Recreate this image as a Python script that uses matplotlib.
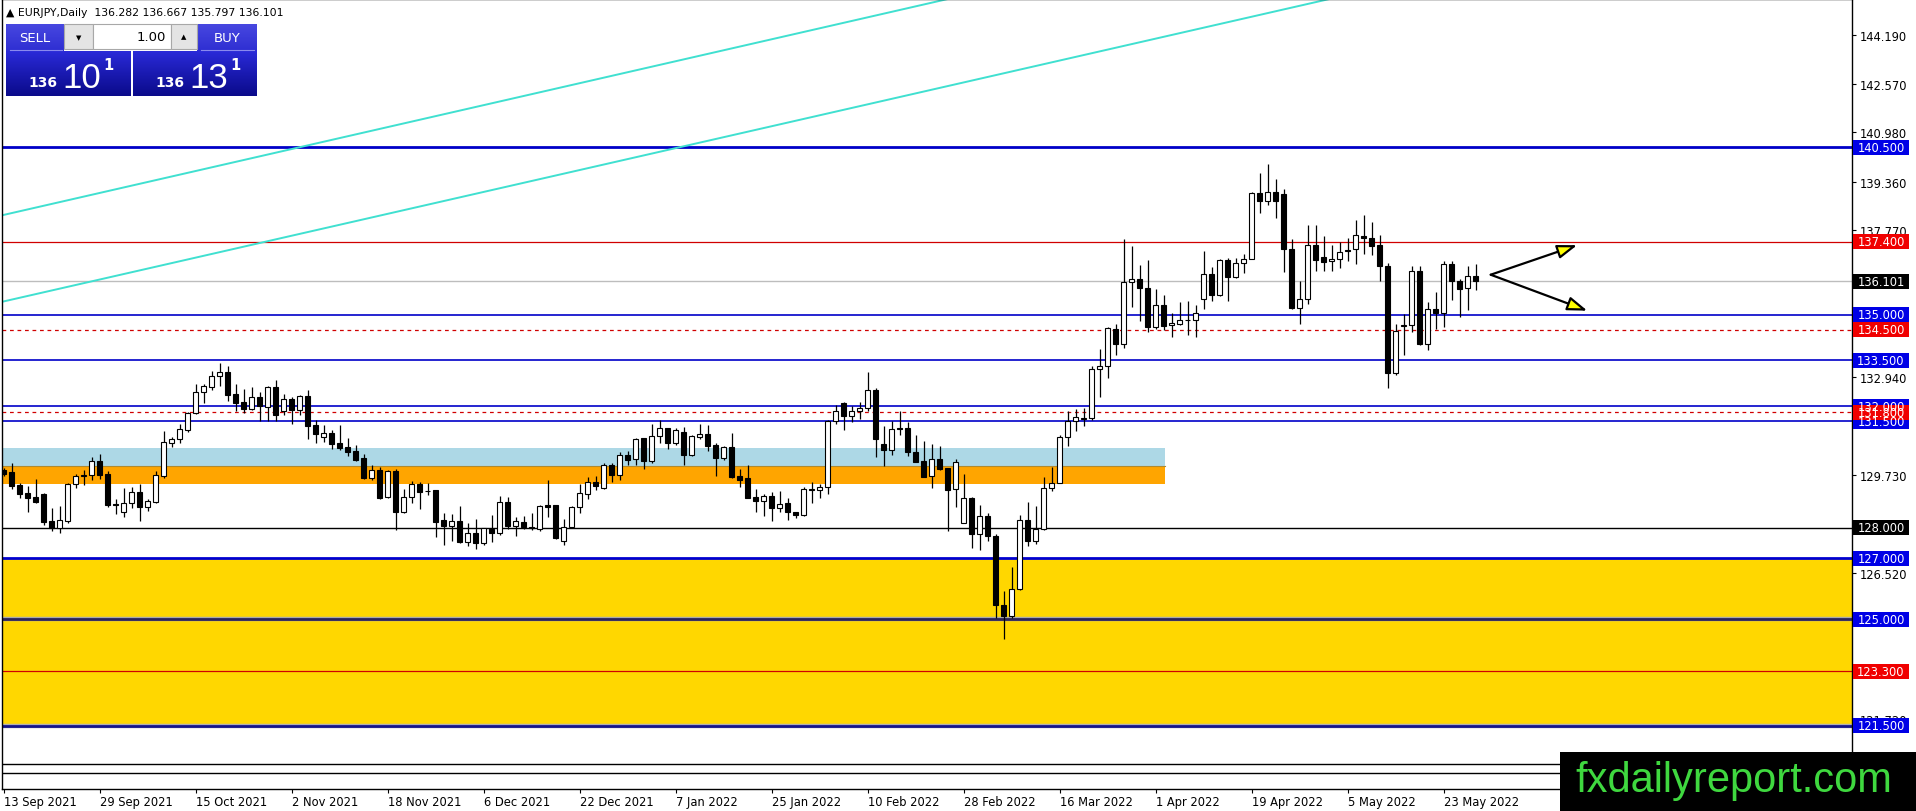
import matplotlib
matplotlib.use("Agg")
import matplotlib.pyplot as plt
import matplotlib.transforms as mtransforms
from matplotlib.patches import Rectangle
from matplotlib.colors import LinearSegmentedColormap
import numpy as np

# ---- daily EURJPY candles, 13 Sep 2021 .. 27 May 2022 ----
opens = [129.90, 129.84, 129.42, 129.15, 129.03, 129.11, 128.22, 127.99, 128.23, 129.43,
         129.71, 129.73, 130.18, 129.76, 128.78, 128.53, 128.81, 129.17, 128.68, 128.86,
         129.69, 130.80, 130.91, 131.22, 131.76, 132.45, 132.64, 132.97, 133.11, 132.38,
         132.12, 131.91, 132.29, 131.98, 132.61, 131.85, 132.22, 131.88, 132.32, 131.37,
         130.99, 131.10, 130.78, 130.66, 130.52, 130.29, 129.65, 129.90, 129.00, 129.87,
         128.53, 129.00, 129.43, 129.22, 129.24, 128.25, 128.07, 128.22, 127.55, 127.83,
         127.49, 127.96, 127.84, 128.84, 128.07, 128.20, 128.04, 127.96, 128.74, 128.74,
         127.58, 128.04, 128.68, 129.12, 129.50, 129.32, 130.05, 129.75, 130.38, 130.25,
         130.94, 130.21, 131.01, 131.27, 130.80, 131.14, 130.40, 130.99, 131.07, 130.72,
         130.28, 130.64, 129.69, 129.65, 129.02, 128.87, 129.04, 128.64, 128.81, 128.51,
         128.41, 129.24, 129.23, 129.33, 131.50, 132.09, 131.66, 131.85, 131.95, 132.53,
         130.74, 130.57, 131.27, 131.27, 130.50, 130.20, 129.71, 130.26, 129.95, 129.27,
         128.15, 128.97, 127.79, 128.39, 127.72, 125.48, 125.10, 126.00, 128.25, 127.56,
         127.95, 129.30, 129.49, 130.97, 131.50, 131.58, 131.60, 133.20, 133.30, 134.53,
         134.02, 136.06, 136.16, 135.87, 134.61, 135.30, 134.65, 134.70, 134.81, 134.81,
         135.50, 136.35, 135.65, 136.79, 136.22, 136.68, 136.83, 138.98, 138.74, 139.01,
         138.96, 137.17, 135.23, 135.52, 137.30, 136.90, 136.75, 136.83, 137.11, 137.14,
         137.57, 137.53, 137.27, 136.61, 133.10, 134.62, 134.65, 136.42, 134.05, 135.20,
         135.06, 136.66, 136.09, 135.86, 136.282]
highs = [129.98, 130.12, 129.48, 129.39, 129.62, 129.16, 128.64, 128.72, 129.46, 129.77,
         129.90, 130.32, 130.43, 129.87, 128.96, 129.30, 129.35, 129.43, 128.96, 129.87,
         131.18, 131.00, 131.40, 131.80, 132.73, 132.73, 133.14, 133.40, 133.32, 132.73,
         132.55, 132.61, 132.47, 132.66, 132.84, 132.40, 132.31, 132.35, 132.53, 131.54,
         131.37, 131.21, 131.37, 130.94, 130.71, 130.43, 130.05, 129.99, 129.90, 129.92,
         129.27, 129.53, 129.50, 129.46, 129.25, 128.49, 128.46, 128.72, 128.15, 128.28,
         128.01, 128.41, 129.04, 129.03, 128.35, 128.39, 128.48, 128.75, 129.57, 128.76,
         128.28, 128.71, 129.44, 129.68, 129.70, 130.14, 130.12, 130.50, 130.52, 130.95,
         130.95, 131.40, 131.54, 131.29, 131.28, 131.30, 131.05, 131.40, 131.37, 130.78,
         130.69, 131.10, 129.92, 130.06, 129.28, 129.11, 129.17, 129.21, 128.97, 128.53,
         129.33, 129.50, 129.44, 131.54, 132.04, 132.14, 132.01, 132.12, 133.11, 132.58,
         131.33, 131.51, 131.85, 131.46, 131.06, 130.85, 130.75, 130.69, 129.98, 130.26,
         129.77, 129.00, 128.75, 128.48, 127.79, 125.94, 126.73, 128.42, 128.84, 128.71,
         129.66, 130.01, 131.06, 131.85, 131.90, 131.93, 133.32, 133.87, 134.59, 134.70,
         137.48, 137.25, 136.63, 136.79, 135.83, 135.64, 135.07, 135.40, 135.44, 135.30,
         137.09, 136.55, 136.83, 136.87, 136.87, 136.98, 139.03, 139.65, 139.96, 139.44,
         139.11, 137.47, 136.09, 137.93, 137.93, 137.57, 137.30, 137.39, 137.51, 138.10,
         138.27, 138.04, 137.63, 136.68, 134.69, 135.01, 136.61, 136.61, 135.40, 135.73,
         136.76, 136.76, 136.16, 136.60, 136.667]
lows = [129.70, 129.28, 128.99, 128.53, 128.81, 128.08, 127.90, 127.84, 128.17, 129.32,
        129.41, 129.57, 129.59, 128.70, 128.47, 128.36, 128.66, 128.24, 128.57, 128.81,
        129.65, 130.67, 130.80, 131.15, 131.73, 132.09, 132.54, 132.67, 132.17, 131.85,
        131.78, 131.87, 131.51, 131.51, 131.51, 131.72, 131.40, 131.71, 130.93, 130.78,
        130.83, 130.59, 130.56, 130.36, 130.20, 129.62, 129.56, 128.94, 128.98, 127.93,
        128.48, 128.83, 128.63, 129.08, 127.71, 127.43, 127.56, 127.52, 127.41, 127.32,
        127.43, 127.53, 127.76, 127.97, 127.75, 127.95, 127.93, 127.91, 128.37, 127.65,
        127.45, 127.99, 128.50, 128.96, 129.25, 129.29, 129.52, 129.58, 130.05, 130.06,
        129.94, 130.14, 130.78, 130.58, 130.73, 130.08, 130.36, 130.92, 130.54, 129.71,
        130.23, 129.64, 129.33, 128.97, 128.51, 128.38, 128.22, 128.53, 128.27, 128.34,
        128.40, 128.82, 128.99, 129.12, 131.40, 131.22, 131.46, 131.57, 131.84, 130.34,
        130.02, 130.40, 131.06, 130.37, 130.15, 129.66, 129.32, 129.91, 127.89, 128.67,
        128.15, 127.33, 127.27, 127.56, 125.04, 124.35, 125.04, 125.97, 127.42, 127.48,
        127.93, 129.22, 129.47, 130.68, 131.18, 131.33, 131.55, 132.29, 132.91, 133.66,
        133.91, 135.26, 134.80, 134.44, 134.53, 134.49, 134.25, 134.65, 134.34, 134.27,
        135.19, 135.46, 135.62, 135.46, 136.19, 136.37, 136.81, 138.35, 138.61, 138.18,
        136.41, 135.20, 134.70, 135.35, 136.44, 136.44, 136.44, 136.54, 136.76, 136.67,
        137.00, 136.97, 136.11, 132.60, 133.03, 133.68, 134.43, 134.01, 133.85, 134.53,
        134.60, 135.49, 134.93, 135.16, 135.797]
closes = [129.78, 129.39, 129.11, 128.99, 128.86, 128.19, 127.99, 128.25, 129.44, 129.69,
          129.73, 130.18, 129.75, 128.76, 128.74, 128.81, 129.17, 128.68, 128.87, 129.73,
          130.81, 130.91, 131.24, 131.77, 132.45, 132.65, 132.97, 133.11, 132.37, 132.09,
          131.91, 132.29, 132.01, 132.61, 131.72, 132.22, 131.88, 132.32, 131.36, 131.09,
          131.10, 130.76, 130.62, 130.50, 130.23, 129.64, 129.89, 128.97, 129.86, 128.53,
          129.00, 129.43, 129.19, 129.20, 128.20, 128.07, 128.22, 127.54, 127.83, 127.49,
          127.99, 127.84, 128.84, 128.07, 128.22, 128.04, 127.99, 128.72, 128.70, 127.68,
          128.04, 128.69, 129.13, 129.50, 129.39, 130.05, 129.75, 130.38, 130.23, 130.93,
          130.21, 131.01, 131.27, 130.80, 131.20, 130.40, 131.01, 131.07, 130.70, 130.28,
          130.64, 129.68, 129.57, 128.99, 128.88, 129.04, 128.64, 128.79, 128.51, 128.41,
          129.27, 129.27, 129.33, 131.51, 131.85, 131.66, 131.85, 131.95, 132.51, 130.92,
          130.57, 131.23, 131.23, 130.50, 130.17, 129.68, 130.26, 129.92, 129.25, 130.15,
          128.97, 127.79, 128.38, 127.72, 125.48, 125.10, 126.00, 128.25, 127.56, 127.95,
          129.30, 129.49, 130.97, 131.51, 131.63, 131.61, 133.20, 133.30, 134.55, 134.03,
          136.06, 136.16, 135.86, 134.60, 135.30, 134.63, 134.72, 134.81, 134.82, 135.07,
          136.35, 135.65, 136.79, 136.22, 136.68, 136.84, 138.98, 138.74, 139.01, 138.74,
          137.16, 135.23, 135.52, 137.30, 136.80, 136.72, 136.83, 137.07, 137.08, 137.60,
          137.53, 137.26, 136.60, 133.10, 134.46, 134.66, 136.42, 134.05, 135.20, 135.04,
          136.65, 136.09, 135.83, 136.28, 136.101]

date_bars = [0, 12, 24, 36, 48, 60, 72, 84, 96, 108, 120, 132, 144, 156, 168, 180]
date_labels = ["13 Sep 2021", "29 Sep 2021", "15 Oct 2021", "2 Nov 2021", "18 Nov 2021",
               "6 Dec 2021", "22 Dec 2021", "7 Jan 2022", "25 Jan 2022", "10 Feb 2022",
               "28 Feb 2022", "16 Mar 2022", "1 Apr 2022", "19 Apr 2022", "5 May 2022",
               "23 May 2022"]
price_ticks = [144.19, 142.57, 140.98, 139.36, 137.77, 132.94, 129.73, 128.11, 126.52, 121.72]

# drawn levels
blue_levels = [140.5, 135.0, 133.5, 132.0, 131.5]
red_levels = [137.4, 123.3]
red_dash_levels = [134.5, 131.8]
black_levels = [128.0]
bid_price = 136.101
demand_zone = (121.5, 127.0)
blue_zone = (130.03, 130.62)
orange_zone = (129.45, 130.03)
zone_end_bar = 145.2
bottom_lines = [120.25, 119.95]

# price tags on the right scale (drawn in this order)
tag_prices = [140.5, 137.4, 135.0, 134.5, 133.5, 132.0, 131.5, 131.8,
              128.0, 127.0, 125.0, 123.3, 121.5, 136.101]
tag_colors = ["#0000e6", "#f00000", "#0000e6", "#f00000", "#0000e6", "#0000e6", "#0000e6", "#f00000",
              "#000000", "#0000e6", "#0000e6", "#f00000", "#0000e6", "#000000"]

# trend channel (two points each) and the two scenario arrows
trend_pts = [((37.1, 140.5), (116.7, 145.28)), ((84.6, 140.5), (164.4, 145.28))]
arrow_start = (185.9, 136.31)
arrow_ends = [(196.7, 137.28), (197.97, 135.13)]

W, H = 1916, 812
fig = plt.figure(figsize=(W / 100, H / 100), dpi=100)
fig.patch.set_facecolor("white")
ax = fig.add_axes([2 / W, 22 / H, 1850 / W, 790 / H])
ax.set_xlim(-0.19, 231.06)
ax.set_ylim(119.43, 145.36)

# zones
ax.axhspan(demand_zone[0], demand_zone[1], color="#ffd700", lw=0, zorder=0.5)
ax.fill_between([-1, zone_end_bar], blue_zone[0], blue_zone[1], color="#add8e6", lw=0, zorder=0.5)
ax.fill_between([-1, zone_end_bar], orange_zone[0], orange_zone[1], color="#ffa500", lw=0, zorder=0.5)
ax.plot([-1, zone_end_bar], [orange_zone[1]] * 2, color="#b08a30", lw=0.8, zorder=0.6)

# levels
for p in blue_levels:
    ax.axhline(p, color="#0000c8", lw=2.0 if p == 140.5 else 1.2, zorder=1)
for p in red_levels:
    ax.axhline(p, color="#d00000", lw=0.9, zorder=1)
for p in red_dash_levels:
    ax.axhline(p, color="#d00000", lw=0.9, ls=(0, (3, 3)), zorder=1)
for p in black_levels:
    ax.axhline(p, color="black", lw=1.0, zorder=1)
ax.axhline(bid_price, color="#bdbdbd", lw=1.0, zorder=1)
ax.axhline(demand_zone[1], color="#0000d0", lw=2.0, zorder=1)
ax.axhline(125.0, color="#aaaaaa", lw=3.2, zorder=1)
ax.axhline(125.0, color="#2b2258", lw=2.0, zorder=1.1)
ax.axhline(demand_zone[0], color="#b0b0b0", lw=3.2, zorder=1)
ax.axhline(demand_zone[0], color="#14148a", lw=2.0, zorder=1.1)
for p in bottom_lines:
    ax.axhline(p, color="black", lw=1.0, zorder=1)

for a, b in trend_pts:
    ax.axline(a, b, color="#40e0d0", lw=1.4, zorder=1.2)

# candles
x = np.arange(len(opens))
o = np.array(opens); c = np.array(closes)
ax.vlines(x, lows, highs, color="black", lw=0.9, zorder=3)
up = c >= o
body_lo = np.minimum(o, c)
body_h = np.maximum(np.abs(c - o), 0.02)
ax.bar(x[up], body_h[up], bottom=body_lo[up], width=0.62, color="white",
       edgecolor="black", linewidth=0.8, zorder=3.1)
ax.bar(x[~up], body_h[~up], bottom=body_lo[~up], width=0.62, color="black",
       edgecolor="black", linewidth=0.8, zorder=3.1)

for end in arrow_ends:
    ax.annotate("", xy=end, xytext=arrow_start,
                arrowprops=dict(arrowstyle="-|>,head_length=1.2,head_width=0.42",
                                fc="#ffff00", ec="black", lw=1.6, shrinkA=0, shrinkB=0),
                zorder=4)

# axes styling
for s in ax.spines.values():
    s.set_color("black")
    s.set_linewidth(1.0)
ax.yaxis.tick_right()
ax.set_yticks(price_ticks)
ax.set_yticklabels([f"{v:.3f}" for v in price_ticks])
ax.set_xticks(date_bars)
ax.set_xticklabels(date_labels, ha="left")
ax.tick_params(axis="y", direction="out", length=3, width=0.8, labelsize=8.3, pad=2.5)
ax.tick_params(axis="x", direction="out", length=3, width=0.8, labelsize=8.3, pad=1.5)

trans = mtransforms.blended_transform_factory(ax.transAxes, ax.transData)
tag_h = 15 / 30.47
tag_x0 = (1853 - 2) / 1850
tag_w = 56 / 1850
for p, col in zip(tag_prices, tag_colors):
    ax.add_patch(Rectangle((tag_x0, p - tag_h / 2), tag_w, tag_h, transform=trans,
                           facecolor=col, edgecolor="none", clip_on=False, zorder=5))
    ax.text(tag_x0 + tag_w / 2, p, f"{p:.3f}", transform=trans, ha="center",
            va="center", color="white", fontsize=8.3, clip_on=False, zorder=6)

# ---- overlay: header, trade panel, watermark (pixel coords) ----
ov = fig.add_axes([0, 0, 1, 1])
ov.set_zorder(10)
ov.patch.set_alpha(0)
ov.axis("off")


def grad(x0, x1, y0, y1, top, bottom):
    cm = LinearSegmentedColormap.from_list("g", [top, bottom])
    ov.imshow(np.linspace(0, 1, 64).reshape(-1, 1), extent=[x0, x1, y1, y0], cmap=cm,
              aspect="auto", interpolation="bilinear", zorder=1)


ov.text(6, 13, "\u25B2 EURJPY,Daily  136.282 136.667 135.797 136.101", fontsize=7.8,
        va="center", ha="left", color="black")

grad(6, 64, 25, 52, "#4848e0", "#2e2ed2")
grad(197, 257, 25, 52, "#4848e0", "#2e2ed2")
grad(6, 131, 52, 97, "#2a2ad8", "#0a0a8a")
grad(133, 257, 52, 97, "#2a2ad8", "#0a0a8a")
ov.plot([10, 62], [51, 51], color="#8a8aee", lw=0.8)
ov.plot([201, 254], [51, 51], color="#8a8aee", lw=0.8)
ov.add_patch(Rectangle((64, 25), 29, 25, facecolor="#e4e4e4", edgecolor="#a8a8a8", lw=0.8, zorder=2))
ov.add_patch(Rectangle((93, 25), 78, 25, facecolor="white", edgecolor="#a8a8a8", lw=0.8, zorder=2))
ov.add_patch(Rectangle((171, 25), 26, 25, facecolor="#e4e4e4", edgecolor="#a8a8a8", lw=0.8, zorder=2))
ov.text(78.5, 38, "\u25BC", fontsize=5, ha="center", va="center", color="black", zorder=3)
ov.text(184, 37, "\u25B2", fontsize=5, ha="center", va="center", color="black", zorder=3)
ov.text(166, 37.5, "1.00", fontsize=9.5, ha="right", va="center", color="black", zorder=3)
ov.text(35, 38.5, "SELL", fontsize=9.5, ha="center", va="center", color="white", zorder=3)
ov.text(227, 38.5, "BUY", fontsize=9.5, ha="center", va="center", color="white", zorder=3)
for bx, big in [(0, "10"), (127, "13")]:
    ov.text(43 + bx, 83, "136", fontsize=10, fontweight="bold", ha="center", va="center",
            color="white", zorder=3)
    ov.text(62 + bx, 88, big, fontsize=25, family="Liberation Sans", ha="left",
            va="baseline", color="white", zorder=3)
    ov.text(108 + bx, 66, "1", fontsize=10.5, fontweight="bold", ha="center", va="center",
            color="white", zorder=3)

ov.add_patch(Rectangle((1560, 753), W - 1560, H - 753, facecolor="black", edgecolor="none", zorder=5))
ov.text(1575, 792, "fxdailyreport.com", fontsize=30, family="Liberation Sans",
        color="#3fd83f", ha="left", va="baseline", zorder=6)

ov.set_xlim(0, W)
ov.set_ylim(H, 0)

fig.savefig("out.png", dpi=100)
